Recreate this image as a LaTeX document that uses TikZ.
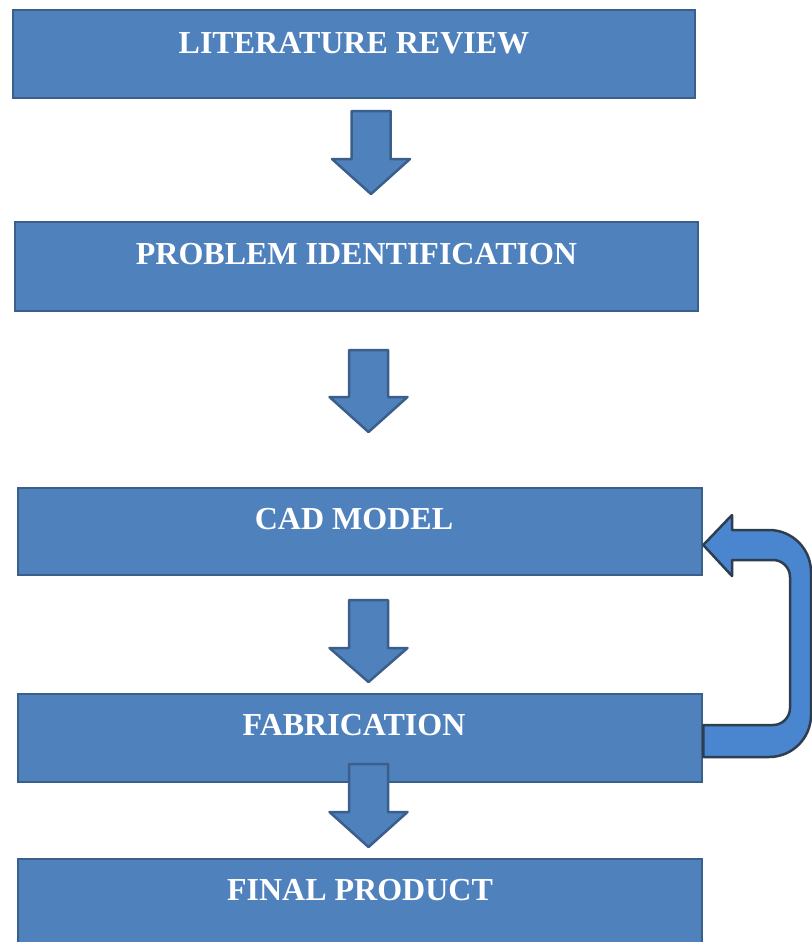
\documentclass[tikz,border=0pt]{standalone}
\usepackage{fontspec}
\setmainfont{Liberation Serif}
\definecolor{boxfill}{HTML}{4F81BD}
\definecolor{boxline}{HTML}{3A5F8B}
\definecolor{ufill}{HTML}{4A86CF}
\definecolor{uline}{HTML}{2F3E4F}
\tikzset{
  stagebox/.style={draw=boxline, fill=boxfill, line width=2.5pt, minimum width=#1, inner sep=0pt},
  stagetext/.style={anchor=base, text=white, font=\fontsize{32}{36}\selectfont\bfseries, inner sep=0pt},
  blockarr/.style={draw=boxline, fill=boxfill, line width=2.5pt, line join=round},
  uarr/.style={draw=uline, fill=ufill, line width=2.5pt, line join=round}
}
\newcommand{\downblock}[4]{% cx, top, base, tip
  \draw[blockarr] (#1-19.5,#2) -- (#1+19.5,#2) -- (#1+19.5,#3) -- (#1+39,#3) -- (#1,#4) -- (#1-39,#3) -- (#1-19.5,#3) -- cycle;}
\begin{document}
\begin{tikzpicture}[x=1pt,y=-1pt]
\useasboundingbox (0,0) rectangle (811,942);
\fill[white] (0,0) rectangle (811,942);
% boxes
\node[stagebox=682pt, minimum height=88pt] (b1) at (354,54) {};
\node[stagebox=683pt, minimum height=89pt] (b2) at (356.5,266.5) {};
\node[stagebox=684pt, minimum height=87pt] (b3) at (360,531.5) {};
\node[stagebox=684pt, minimum height=88pt] (b4) at (360,738) {};
\node[stagebox=684pt, minimum height=101pt] (b5) at (360,909.5) {};
% texts
\node[stagetext] (t1) at ([yshift=-45pt]b1.north) {LITERATURE REVIEW};
\node[stagetext] (t2) at ([yshift=-44pt]b2.north) {PROBLEM IDENTIFICATION};
\node[stagetext] (t3) at ([xshift=-6pt,yshift=-43pt]b3.north) {CAD MODEL};
\node[stagetext] (t4) at ([xshift=-6pt,yshift=-43pt]b4.north) {FABRICATION};
\node[stagetext] (t5) at ([yshift=-43pt]b5.north) {FINAL PRODUCT};
% down arrows
\downblock{371}{111}{159}{194}
\downblock{368.5}{350}{397}{432}
\downblock{368.5}{600}{648}{682}
\downblock{368.5}{764}{812}{847}
% U-turn arrow from fabrication back to CAD model
\draw[uarr] (b4.east |- 0,725) -- (773,725) arc[start angle=90, end angle=0, radius=17] -- (790,577)
  arc[start angle=0, end angle=-90, radius=17] -- (732,560) -- (732,576) -- (b3.east |- 0,545) -- (732,515) -- (732,530)
  -- (769,530) arc[start angle=-90, end angle=0, radius=42] -- (811,715) arc[start angle=0, end angle=90, radius=42] -- (b4.east |- 0,757) -- cycle;
\end{tikzpicture}
\end{document}
